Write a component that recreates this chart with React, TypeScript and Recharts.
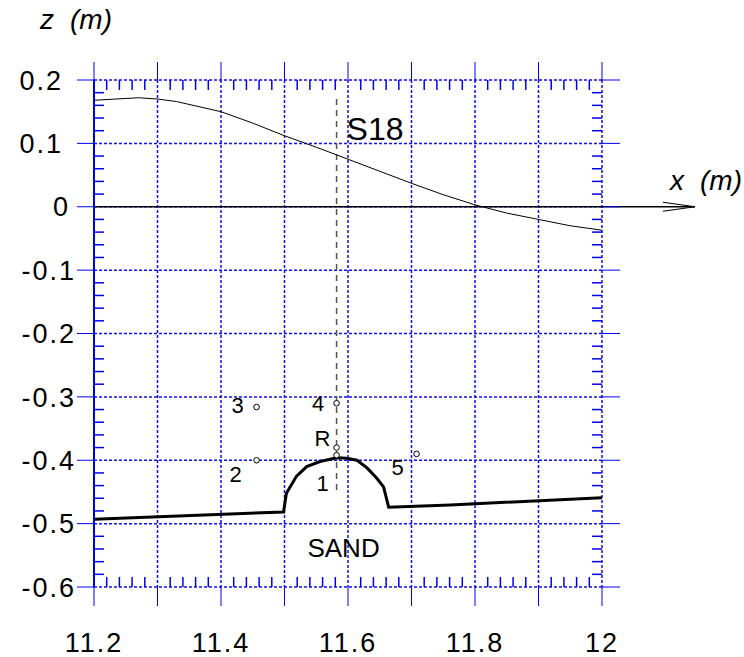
import React from 'react';
import {
  ComposedChart,
  XAxis,
  YAxis,
  CartesianGrid,
  Line,
  Scatter,
  ReferenceLine,
  ReferenceDot,
} from 'recharts';

// Axis ticks (m)
const xTicks = [11.2, 11.3, 11.4, 11.5, 11.6, 11.7, 11.8, 11.9, 12];
const xLabelled = [11.2, 11.4, 11.6, 11.8, 12];
const zTicks = [0.2, 0.1, 0, -0.1, -0.2, -0.3, -0.4, -0.5, -0.6];

// Free surface elevation along the flume
const surfaceX = [11.2, 11.27, 11.3, 11.33, 11.4, 11.45, 11.5, 11.55, 11.6, 11.65, 11.7, 11.75, 11.8, 11.85, 11.9, 11.95, 12];
const surfaceZ = [0.168, 0.172, 0.17, 0.166, 0.15, 0.132, 0.112, 0.094, 0.075, 0.056, 0.037, 0.019, 0.003, -0.01, -0.02, -0.03, -0.037];

// Sand bed profile with the buried structure
const bedX = [11.2, 11.4985, 11.503, 11.519, 11.535, 11.556, 11.582, 11.598, 11.614, 11.63, 11.645, 11.656, 11.664, 11.761, 12];
const bedZ = [-0.493, -0.4816, -0.452, -0.425, -0.41, -0.402, -0.396, -0.397, -0.4, -0.412, -0.428, -0.442, -0.474, -0.4705, -0.459];

// Pressure probes
const probeNames = ['1', '2', '3', '4', '5', 'R'];
const probeX = [11.582, 11.456, 11.456, 11.582, 11.708, 11.582];
const probeZ = [-0.392, -0.4, -0.316, -0.31, -0.39, -0.38];

// Measuring section
const sectionName = 'S18';
const sectionX = 11.582;
const sectionTop = 0.17;
const sectionBottom = -0.45;

const X_MIN = 11.2;
const X_MAX = 12;
const Z_MIN = -0.6;
const Z_MAX = 0.2;
const X_ARROW_TIP = 12.1465;
const X_ARROW_BARB = 12.096;
const Z_ARROW_BARB = 0.0071;
const MINOR_X = 0.0157; // inner minor tick length, x units
const MINOR_Z = 0.0158; // inner minor tick length, z units

const surfaceData = surfaceX.map((x, i) => ({ x, z: surfaceZ[i] }));
const bedData = bedX.map((x, i) => ({ x, z: bedZ[i] }));
const probeData = probeNames.map((name, i) => ({ name, x: probeX[i], z: probeZ[i] }));

const round = (v: number) => Math.round(v * 1000) / 1000;
const minorXs = xTicks.slice(0, -1).flatMap((m) => [1, 2, 3, 4].map((k) => round(m + k * 0.02)));
const minorZs = zTicks.slice(0, -1).flatMap((m) => [1, 2, 3, 4].map((k) => round(m - k * 0.02)));

const BLUE = '#0000f0';
const GRID = '#1010e8';
const FONT = '"Liberation Sans", Arial, Helvetica, sans-serif';

// Label offsets of each probe name relative to its marker
const probeLabelOffset: Record<string, { dx: number; dy: number }> = {
  '1': { dx: -14, dy: 36 },
  '2': { dx: -21, dy: 22 },
  '3': { dx: -19, dy: 6 },
  '4': { dx: -18.5, dy: 8 },
  '5': { dx: -19, dy: 21 },
  R: { dx: -14, dy: -2 },
};

const XTick = (props: any) => {
  const { x, y, payload } = props;
  if (!xLabelled.includes(payload.value)) return null;
  return (
    <text x={x} y={y + 46} textAnchor="middle" fontFamily={FONT} fontSize={27} letterSpacing={2} fill="#000">
      {String(payload.value)}
    </text>
  );
};

// Negative values keep their sign in the column nearest the axis
const yLabelGap = (v: number) => (v < 0 ? 1 : v === 0 ? 7 : 14);

const YTick = (props: any) => {
  const { x, y, payload } = props;
  return (
    <text
      x={x - yLabelGap(payload.value)}
      y={y}
      dy="0.36em"
      textAnchor="end"
      fontFamily={FONT}
      fontSize={27}
      letterSpacing={2}
      fill="#000"
    >
      {String(payload.value)}
    </text>
  );
};

const noTick = () => null;

const ProbeMark = (props: any) => {
  const { cx, cy, payload } = props;
  const off = probeLabelOffset[payload.name];
  return (
    <g>
      <circle cx={cx} cy={cy} r={2.8} fill="#fff" stroke="#000" strokeWidth={1} />
      <text x={cx + off.dx} y={cy + off.dy} textAnchor="middle" fontFamily={FONT} fontSize={22} fill="#000">
        {payload.name}
      </text>
    </g>
  );
};

const ZTitle = (props: any) => (
  <text x={props.cx - 54} y={props.cy - 51} fontFamily={FONT} fontStyle="italic" fontSize={28} fill="#000">
    <tspan>z</tspan>
    <tspan x={props.cx - 24}>(m)</tspan>
  </text>
);

const XTitle = (props: any) => (
  <text x={props.cx + 68} y={props.cy - 17} fontFamily={FONT} fontStyle="italic" fontSize={28} fill="#000">
    <tspan>x</tspan>
    <tspan x={props.cx + 98}>(m)</tspan>
  </text>
);

const SectionTitle = (props: any) => (
  <text x={props.cx + 10} y={props.cy - 3.6} fontFamily={FONT} fontSize={32} fill="#000">
    {sectionName}
  </text>
);

const SandTitle = (props: any) => (
  <text x={props.cx} y={props.cy} textAnchor="middle" fontFamily={FONT} fontSize={26} fill="#000">
    SAND
  </text>
);

export default function App() {
  return (
    <div style={{ position: 'absolute', left: 0, top: 0, width: 744, height: 657, background: '#fff' }}>
      <ComposedChart width={744} height={657} margin={{ top: 60, right: 122, bottom: 10, left: 34 }}>
        <CartesianGrid stroke={GRID} strokeDasharray="3 2" strokeWidth={1.5} />
        <XAxis
          type="number"
          dataKey="x"
          domain={[X_MIN, X_MAX]}
          ticks={xTicks}
          interval={0}
          allowDataOverflow
          height={60}
          tickSize={19}
          tickMargin={0}
          axisLine={false}
          tickLine={{ stroke: BLUE, strokeWidth: 1 }}
          tick={<XTick />}
        />
        <XAxis
          xAxisId="top"
          orientation="top"
          type="number"
          dataKey="x"
          domain={[X_MIN, X_MAX]}
          ticks={xTicks}
          interval={0}
          allowDataOverflow
          height={20}
          tickSize={18}
          axisLine={false}
          tickLine={{ stroke: BLUE, strokeWidth: 1 }}
          tick={noTick}
        />
        <YAxis
          type="number"
          domain={[Z_MIN, Z_MAX]}
          ticks={zTicks}
          interval={0}
          allowDataOverflow
          width={60}
          tickSize={17}
          tickMargin={0}
          axisLine={{ stroke: BLUE, strokeWidth: 2 }}
          tickLine={{ stroke: BLUE, strokeWidth: 1 }}
          tick={<YTick />}
        />
        <YAxis
          yAxisId="right"
          orientation="right"
          type="number"
          domain={[Z_MIN, Z_MAX]}
          ticks={zTicks}
          interval={0}
          allowDataOverflow
          width={20}
          tickSize={18}
          axisLine={false}
          tickLine={{ stroke: BLUE, strokeWidth: 1 }}
          tick={noTick}
        />

        {/* inner minor ticks on all four edges */}
        {minorXs.map((v) => (
          <ReferenceLine key={`mt${v}`} segment={[{ x: v, y: Z_MAX }, { x: v, y: Z_MAX - MINOR_Z }]} stroke={BLUE} strokeWidth={1.5} ifOverflow="visible" />
        ))}
        {minorXs.map((v) => (
          <ReferenceLine key={`mb${v}`} segment={[{ x: v, y: Z_MIN }, { x: v, y: Z_MIN + MINOR_Z }]} stroke={BLUE} strokeWidth={1.5} ifOverflow="visible" />
        ))}
        {minorZs.map((v) => (
          <ReferenceLine key={`ml${v}`} segment={[{ x: X_MIN, y: v }, { x: X_MIN + MINOR_X, y: v }]} stroke={BLUE} strokeWidth={1.5} ifOverflow="visible" />
        ))}
        {minorZs.map((v) => (
          <ReferenceLine key={`mr${v}`} segment={[{ x: X_MAX, y: v }, { x: X_MAX - MINOR_X, y: v }]} stroke={BLUE} strokeWidth={1.5} ifOverflow="visible" />
        ))}

        {/* x axis at still water level, with open arrowhead */}
        <ReferenceLine segment={[{ x: X_MIN, y: 0 }, { x: X_ARROW_TIP, y: 0 }]} stroke="#000" strokeWidth={1.5} ifOverflow="visible" />
        <ReferenceLine segment={[{ x: X_ARROW_BARB, y: Z_ARROW_BARB }, { x: X_ARROW_TIP, y: 0 }]} stroke="#000" strokeWidth={1.2} ifOverflow="visible" />
        <ReferenceLine segment={[{ x: X_ARROW_BARB, y: -Z_ARROW_BARB }, { x: X_ARROW_TIP, y: 0 }]} stroke="#000" strokeWidth={1.2} ifOverflow="visible" />

        {/* measuring section */}
        <ReferenceLine
          segment={[{ x: sectionX, y: sectionTop }, { x: sectionX, y: sectionBottom }]}
          stroke="#555"
          strokeWidth={1.5}
          strokeDasharray="6 5"
          ifOverflow="visible"
        />

        <Line data={surfaceData} dataKey="z" type="linear" stroke="#000" strokeWidth={1} dot={false} isAnimationActive={false} />
        <Line data={bedData} dataKey="z" type="linear" stroke="#000" strokeWidth={3} dot={false} isAnimationActive={false} />
        <Scatter data={probeData} dataKey="z" shape={<ProbeMark />} isAnimationActive={false} />

        <ReferenceDot x={X_MIN} y={Z_MAX} ifOverflow="visible" shape={ZTitle} />
        <ReferenceDot x={X_MAX} y={0} ifOverflow="visible" shape={XTitle} />
        <ReferenceDot x={sectionX} y={0.1} ifOverflow="visible" shape={SectionTitle} />
        <ReferenceDot x={11.593} y={-0.552} ifOverflow="visible" shape={SandTitle} />
      </ComposedChart>
    </div>
  );
}
